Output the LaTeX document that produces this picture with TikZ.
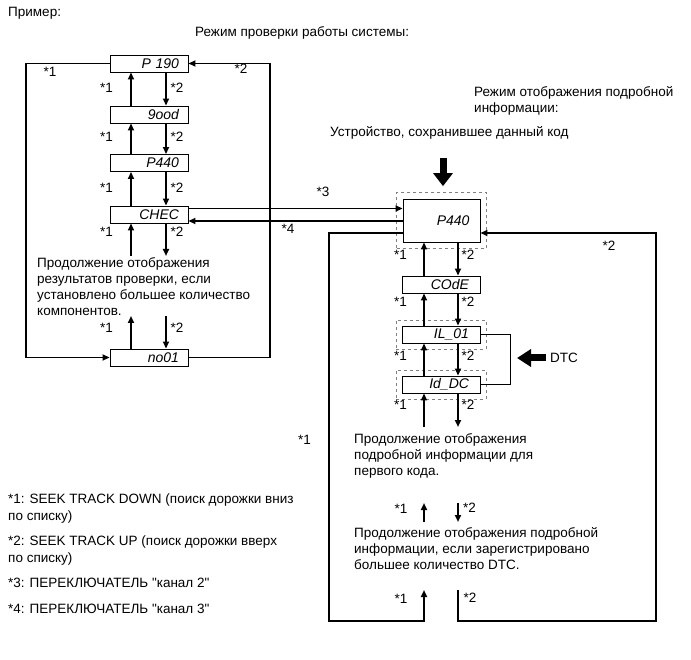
\documentclass[tikz,border=0pt]{standalone}
\usepackage{fontspec}
\setmainfont{Liberation Sans}
\usetikzlibrary{arrows.meta,fit}

\tikzset{
  txt/.style={anchor=base west, inner sep=0pt, font=\fontsize{13.5}{16.3}\selectfont},
  para/.style={anchor=north west, inner sep=0pt, align=left, font=\fontsize{13.5}{16.3}\selectfont},
  star/.style={inner sep=0pt, font=\fontsize{13.5}{16.3}\selectfont},
  disp/.style={draw, line width=0.9pt, minimum height=17pt, inner ysep=0pt, inner xsep=9pt,
    text width=60pt, align=right, font=\fontsize{14}{14}\selectfont\itshape},
  dframe/.style={draw=gray, dashed, line width=0.8pt, inner sep=6pt},
  con/.style={line width=1.8pt},
  arr/.style={con, -{Triangle[length=7pt,width=6pt]}},
  blk/.style={line width=7pt, -{Triangle[length=13pt,width=19pt]}},
}

\begin{document}
\begin{tikzpicture}[x=1pt,y=-1pt]
   \useasboundingbox (0,0) rectangle (691,660);

   % headings
   \node[txt] (ex) at (8,17) {Пример:};
   \node[txt] (checkmode) at (195,37) {Режим проверки работы системы:};
   \node[para] (detailmode) at (474,86) {Режим отображения подробной\\информации:};
   \node[txt] (device) at (330,137) {Устройство, сохранившее данный код};

   % left column
   \node[disp] (p190) at (149,63.5) {P 190};
   \node[disp] (good) at (149,114.5) {9ood};
   \node[disp] (p440a) at (149,163) {P440};
   \node[disp] (chec) at (149,214.5) {CHEC};
   \node[disp] (no01) at (149,357.5) {no01};
   \node[para] (moretext) at (37,257) {Продолжение отображения\\результатов проверки, если\\установлено большее количество\\компонентов.};

   \coordinate (upL) at (131,0);
   \coordinate (dnL) at (166,0);
   \coordinate (lx) at (26,0);
   \coordinate (rx) at (270,0);
   \coordinate (y9) at (0,256);
   \coordinate (y10) at (0,316);

   \draw[arr] (good.north -| upL) -- (p190.south -| upL);
   \draw[arr] (p190.south -| dnL) -- (good.north -| dnL);
   \draw[arr] (p440a.north -| upL) -- (good.south -| upL);
   \draw[arr] (good.south -| dnL) -- (p440a.north -| dnL);
   \draw[arr] (chec.north -| upL) -- (p440a.south -| upL);
   \draw[arr] (p440a.south -| dnL) -- (chec.north -| dnL);
   \draw[arr] (upL |- y9) -- (chec.south -| upL);
   \draw[arr] (chec.south -| dnL) -- (dnL |- y9);
   \draw[arr] (no01.north -| upL) -- (upL |- y10);
   \draw[arr] (dnL |- y10) -- (no01.north -| dnL);

   \draw[arr] (p190.west) -- (p190.west -| lx) -- (no01.west -| lx) -- (no01.west);
   \draw[arr] (no01.east) -- (no01.east -| rx) -- (p190.east -| rx) -- (p190.east);

   \foreach \y/\n in {88/a,137/b,188/c,232/d,328/e}{
     \node[star] (ls1\n) at (106.5,\y) {*1};
     \node[star] (ls2\n) at (177,\y) {*2};
   }
   \node[star] (loopl) at (50,72) {*1};
   \node[star] (loopr) at (241,69) {*2};

   % right column
   \node[disp, minimum height=43pt, inner xsep=10.5pt, text width=56pt] (p440) at (441.5,220.5) {P440};
   \node[disp, inner xsep=11pt, text width=56pt] (code) at (441,284.5) {COdE};
   \node[disp, inner xsep=11pt, text width=56pt] (il01) at (441,334.5) {IL\_01};
   \node[disp, inner xsep=11pt, text width=56pt] (iddc) at (441,384.5) {Id\_DC};
   \node[dframe, fit=(p440)] (p440frame) {};
   \node[dframe, inner sep=5.5pt, fit=(il01)] (il01frame) {};
   \node[dframe, inner sep=5.5pt, fit=(iddc)] (iddcframe) {};

   \node[para] (firstcode) at (354,433) {Продолжение отображения\\подробной информации для\\первого кода.};
   \node[para] (moredtc) at (354,527) {Продолжение отображения подробной\\информации, если зарегистрировано\\большее количество DTC.};
   \node[anchor=west, inner sep=0pt, font=\fontsize{13.5}{16.3}\selectfont] (dtc) at (550,358) {DTC};

   \coordinate (upR) at (424,0);
   \coordinate (dnR) at (458,0);
   \coordinate (y3) at (0,208.5);
   \coordinate (y4) at (0,221);
   \coordinate (y5) at (0,233);
   \coordinate (y6) at (0,427);
   \coordinate (y7) at (0,503);
   \coordinate (y8) at (0,522);
   \coordinate (bt) at (0,590);
   \coordinate (by) at (0,621);
   \coordinate (bx) at (329,0);
   \coordinate (ex2) at (656,0);
   \coordinate (bkx) at (510,0);
   \coordinate (devarr) at (443,158);

   \draw[blk, shorten >=6pt] (devarr) -- (devarr |- p440frame.north);

   \draw[arr] (chec.east |- y3) -- (p440.west |- y3);
   \draw[arr] (p440.west |- y4) -- (chec.east |- y4);

   \draw[arr] (code.north -| upR) -- (p440.south -| upR);
   \draw[arr] (p440.south -| dnR) -- (code.north -| dnR);
   \draw[arr] (il01.north -| upR) -- (code.south -| upR);
   \draw[arr] (code.south -| dnR) -- (il01.north -| dnR);
   \draw[arr] (iddc.north -| upR) -- (il01.south -| upR);
   \draw[arr] (il01.south -| dnR) -- (iddc.north -| dnR);
   \draw[arr] (upR |- y6) -- (iddc.south -| upR);
   \draw[arr] (iddc.south -| dnR) -- (dnR |- y6);
   \draw[arr] (upR |- y8) -- (upR |- y7);
   \draw[arr] (dnR |- y7) -- (dnR |- y8);

   \draw[arr] (p440.west |- y5) -- (bx |- y5) -- (bx |- by) -- (upR |- by) -- (upR |- bt);
   \draw[arr] (dnR |- bt) -- (dnR |- by) -- (ex2 |- by) -- (ex2 |- y5) -- (p440.east |- y5);

   \draw[line width=0.9pt] (il01.east) -- (il01.east -| bkx) -- (iddc.east -| bkx) -- (iddc.east);
   \draw[blk, -{Triangle[length=14pt,width=17pt]}, shorten <=4pt, shorten >=7pt] (dtc.west) -- (bkx |- dtc.west);

   \foreach \y/\n in {255/a,302/b,356/c,405/d}{
     \node[star] (rs1\n) at (400.5,\y) {*1};
     \node[star] (rs2\n) at (468,\y) {*2};
   }
   \node[star] (rs1e) at (401,509) {*1};
   \node[star] (rs2e) at (469.5,507.5) {*2};
   \node[star] (rs1f) at (401,599) {*1};
   \node[star] (rs2f) at (470,598) {*2};
   \node[star] (sw3) at (323,192) {*3};
   \node[star] (sw4) at (288,229) {*4};
   \node[star] (loopr2) at (609,246) {*2};
   \node[star] (loopl2) at (304.5,440) {*1};

   % legend
   \node[para] (leg1) at (8,494) {*1: SEEK TRACK DOWN (поиск дорожки вниз\\по списку)};
   \node[para] (leg2) at (8,536) {*2: SEEK TRACK UP (поиск дорожки вверх\\по списку)};
   \node[para] (leg3) at (8,578) {*3: ПЕРЕКЛЮЧАТЕЛЬ \textquotedbl канал 2\textquotedbl};
   \node[para] (leg4) at (8,604) {*4: ПЕРЕКЛЮЧАТЕЛЬ \textquotedbl канал 3\textquotedbl};
 \end{tikzpicture}
\end{document}
